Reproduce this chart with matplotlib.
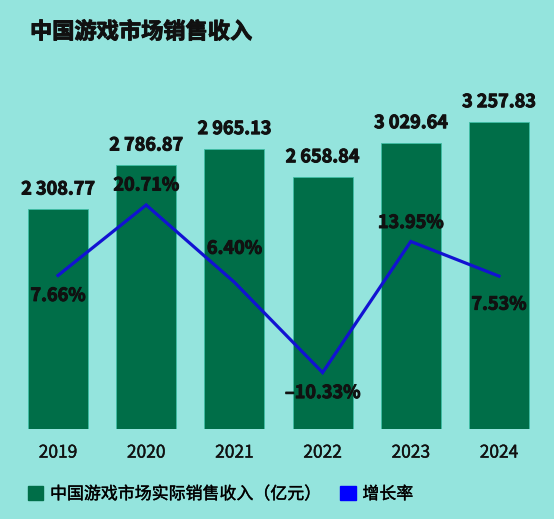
import matplotlib

matplotlib.use("Agg")
import matplotlib.pyplot as plt
import matplotlib.patheffects as pe
import numpy as np
from matplotlib.patches import Patch

plt.rcParams["font.family"] = ["Noto Sans CJK SC", "DejaVu Sans"]

years = ["2019", "2020", "2021", "2022", "2023", "2024"]
revenue = [2308.77, 2786.87, 2965.13, 2658.84, 3029.64, 3257.83]
growth = [7.66, 20.71, 6.40, -10.33, 13.95, 7.53]

title = "中国游戏市场销售收入"
bar_name = "中国游戏市场实际销售收入（亿元）"
line_name = "增长率"

BG = "#94e4dd"
GREEN = "#006e48"
BLUE = "#1212d2"
INK = "#111111"

# pixel offsets (up = positive) for the growth labels
pct_dy = [-20, 20, 34, -20, 19, -28]

heavy = [pe.withStroke(linewidth=0.7, foreground=INK)]
light = [pe.withStroke(linewidth=0.3, foreground=INK)]


def fmt_rev(v):
    return f"{v:,.2f}".replace(",", " ")


def fmt_pct(v):
    s = f"{abs(v):.2f}%"
    return ("–" + s) if v < 0 else s


W, H = 554, 519
fig = plt.figure(figsize=(W / 100, H / 100), dpi=100, facecolor=BG)
ax = fig.add_axes([13.9 / W, (H - 429) / H, 529.2 / W, 340 / H])
ax.set_facecolor(BG)

x = np.arange(len(years))
base = -82.6
ax.bar(
    x,
    np.array(revenue) - base,
    bottom=base,
    width=0.68,
    color=GREEN,
    edgecolor="#3fbfa6",
    linewidth=0.6,
)
ax.set_xlim(-0.5, len(years) - 0.5)
ax.set_ylim(base, 3613)
for xi, v in zip(x, revenue):
    ax.annotate(
        fmt_rev(v),
        (xi, v),
        textcoords="offset pixels",
        xytext=(0, 20),
        ha="center",
        va="center",
        fontsize=13,
        fontweight="bold",
        color=INK,
        path_effects=heavy,
    )

ax.set_xticks(x)
ax.set_xticklabels(years, fontsize=12.5, color=INK, path_effects=light)
ax.tick_params(axis="x", length=0, pad=10.5)
ax.set_yticks([])
for sp in ax.spines.values():
    sp.set_visible(False)

ax2 = ax.twinx()
ax2.plot(x, growth, color=BLUE, lw=2.3, solid_joinstyle="miter")
ax2.set_ylim(-20.78, 42.19)
ax2.set_yticks([])
for sp in ax2.spines.values():
    sp.set_visible(False)
for xi, v, dy in zip(x, growth, pct_dy):
    ax2.annotate(
        fmt_pct(v),
        (xi, v),
        textcoords="offset pixels",
        xytext=(0, dy),
        ha="center",
        va="center",
        fontsize=13,
        fontweight="bold",
        color=INK,
        path_effects=heavy,
    )

fig.text(
    30 / W,
    1 - 32 / H,
    title,
    fontsize=16,
    fontweight="bold",
    va="center",
    color=INK,
    path_effects=heavy,
)

handles = [Patch(color=GREEN, label=bar_name), Patch(color="#0000ff", label=line_name)]
leg = fig.legend(
    handles=handles,
    loc="center left",
    bbox_to_anchor=(28 / W, 1 - 494 / H),
    ncol=2,
    frameon=False,
    prop={"size": 12.2},
    handlelength=0.9,
    handleheight=0.9,
    handletextpad=0.4,
    columnspacing=1.2,
    borderpad=0,
    borderaxespad=0,
)
for t in leg.get_texts():
    t.set_path_effects(light)

fig.savefig("out.png", dpi=100, facecolor=BG)
